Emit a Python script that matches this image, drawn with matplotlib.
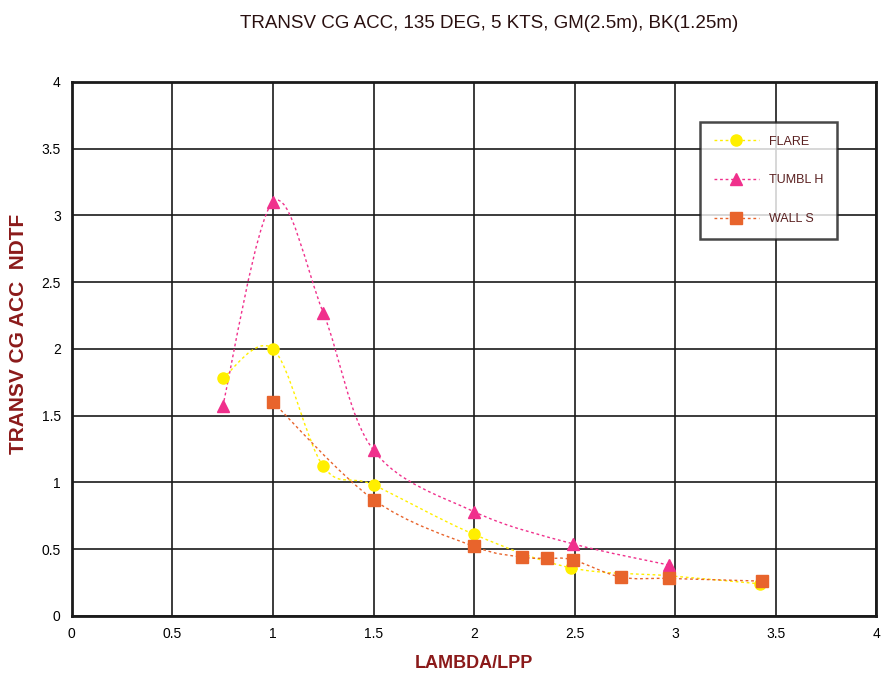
import matplotlib
matplotlib.use("Agg")
import matplotlib.pyplot as plt
from matplotlib.path import Path
from matplotlib.patches import PathPatch
import numpy as np

plt.rcParams['font.family'] = ['Liberation Sans Narrow', 'Liberation Sans', 'DejaVu Sans']

# Data
flare_x = [0.75, 1.0, 1.25, 1.5, 2.0, 2.48, 2.97, 3.42]
flare_y = [1.78, 2.0, 1.12, 0.98, 0.61, 0.36, 0.30, 0.24]

tumbl_x = [0.75, 1.0, 1.25, 1.5, 2.0, 2.49, 2.97]
tumbl_y = [1.57, 3.10, 2.27, 1.24, 0.78, 0.54, 0.38]

wall_x = [1.0, 1.5, 2.0, 2.24, 2.36, 2.49, 2.73, 2.97, 3.43]
wall_y = [1.60, 0.87, 0.52, 0.44, 0.43, 0.42, 0.29, 0.28, 0.26]

series = [
    ("FLARE", flare_x, flare_y, "#FFEF00", "o", 8),
    ("TUMBL H", tumbl_x, tumbl_y, "#F0308C", "^", 9),
    ("WALL S", wall_x, wall_y, "#E8642C", "s", 8),
]


def smooth_path(xs, ys):
    """Excel-like smoothed line: Catmull-Rom segments as cubic Beziers."""
    p = np.column_stack([xs, ys])
    n = len(p)
    verts = [p[0]]
    codes = [Path.MOVETO]
    for i in range(n - 1):
        p0 = p[i - 1] if i > 0 else p[i]
        p3 = p[i + 2] if i + 2 < n else p[i + 1]
        c1 = p[i] + (p[i + 1] - p0) / 6.0
        c2 = p[i + 1] - (p3 - p[i]) / 6.0
        verts += [c1, c2, p[i + 1]]
        codes += [Path.CURVE4] * 3
    return Path(verts, codes)


fig = plt.figure(figsize=(8.87, 6.76), dpi=100)
ax = fig.add_axes([0.081, 0.089, 0.907, 0.790])

for name, xs, ys, col, mk, ms in series:
    ax.add_patch(PathPatch(smooth_path(xs, ys), fill=False, edgecolor=col,
                           linestyle=(0, (2, 2)), linewidth=1.0, zorder=3))
    ax.plot(xs, ys, linestyle="none", marker=mk, markersize=ms, color=col,
            markeredgecolor=col, zorder=4)
    ax.plot([], [], linestyle=(0, (2, 2)), linewidth=1.0, color=col,
            marker=mk, markersize=ms, label=name)

ax.set_xlim(0, 4)
ax.set_ylim(0, 4)
ax.set_xticks(np.arange(0, 4.01, 0.5))
ax.set_yticks(np.arange(0, 4.01, 0.5))
ax.set_xticklabels(["0", "0.5", "1", "1.5", "2", "2.5", "3", "3.5", "4"])
ax.set_yticklabels(["0", "0.5", "1", "1.5", "2", "2.5", "3", "3.5", "4"])
ax.tick_params(labelsize=10, length=0, pad=8)
ax.grid(True, color="#1a1a1a", linewidth=1.2)
ax.set_axisbelow(True)
for s in ax.spines.values():
    s.set_linewidth(2.0)
    s.set_color("#1a1a1a")

ax.set_xlabel("LAMBDA/LPP", fontsize=13, fontweight="bold", color="#8B1A1A", labelpad=10)
ax.set_ylabel("TRANSV CG ACC  NDTF", fontsize=15, fontweight="bold", color="#8B1A1A")
ax.yaxis.set_label_coords(-0.054, 0.528)
fig.text(0.552, 0.965, "TRANSV CG ACC, 135 DEG, 5 KTS, GM(2.5m), BK(1.25m)",
         ha="center", va="center", fontsize=13.5, color="#2a1010")

leg = ax.legend(loc="upper left", bbox_to_anchor=(0.781, 0.925), frameon=True,
                fancybox=False, edgecolor="#1a1a1a", fontsize=9, labelspacing=2.15,
                handlelength=3.6, borderpad=1.1, handletextpad=0.8, borderaxespad=0)
leg.get_frame().set_linewidth(1.8)
for t in leg.get_texts():
    t.set_color("#5a2020")

fig.savefig("out.png", dpi=100)
